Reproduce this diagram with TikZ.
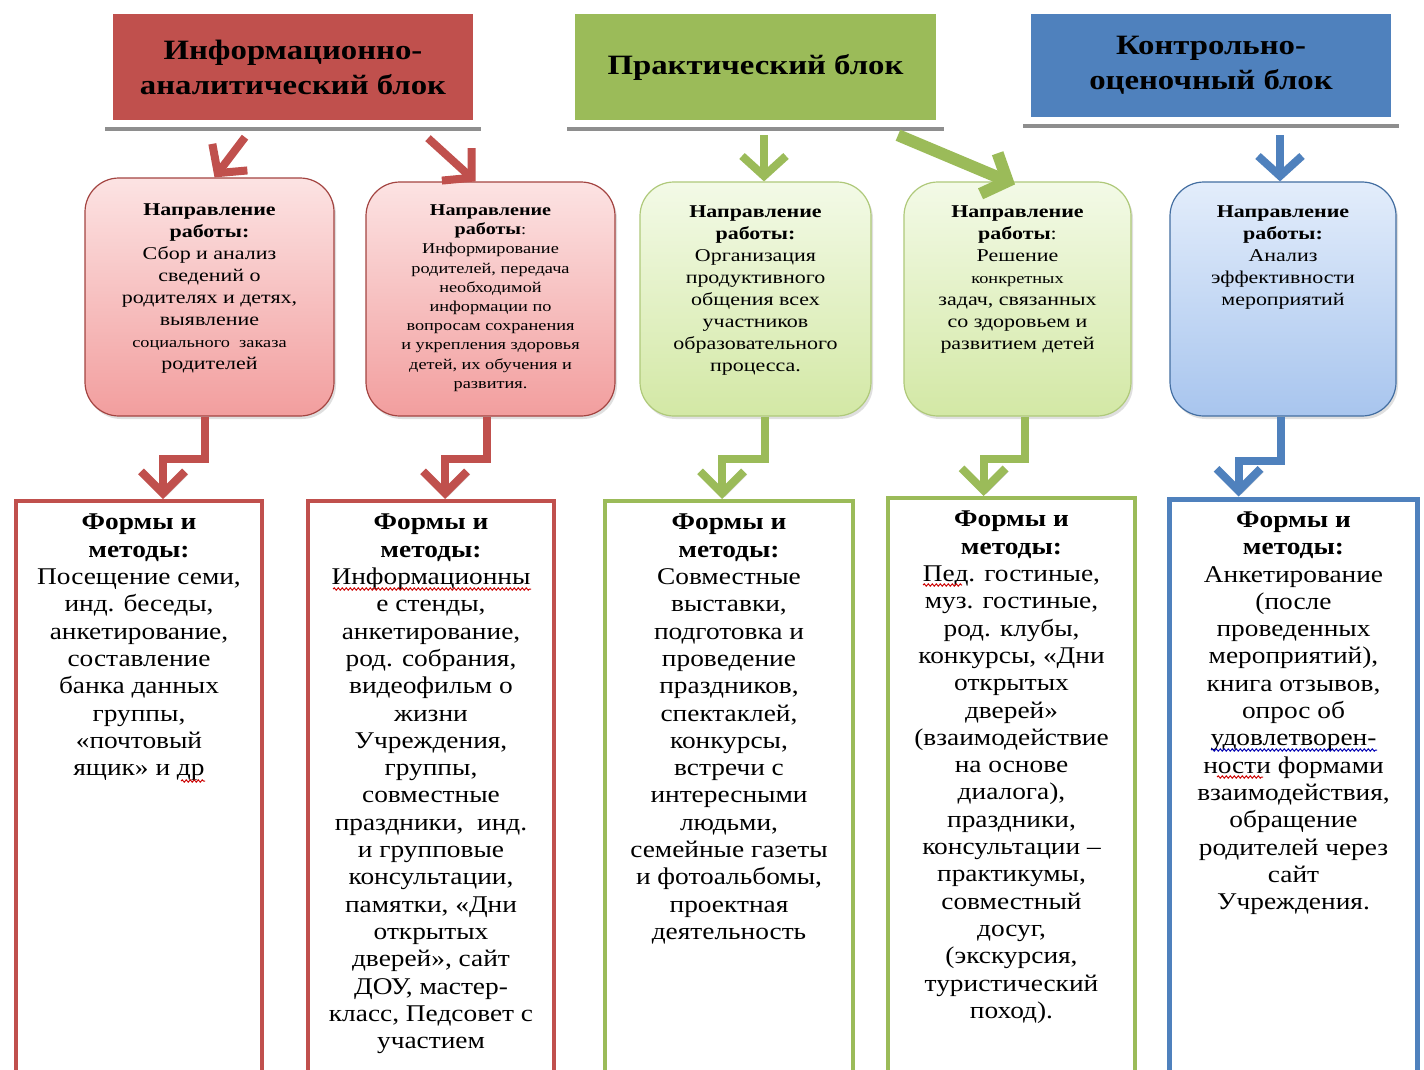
\documentclass[tikz,border=0pt]{standalone}
\usepackage{fontspec}
\setmainfont{Liberation Serif}
\newfontfamily\hdrfont[FakeStretch=1.17]{Liberation Serif}
\newfontfamily\midfont[FakeStretch=1.22]{Liberation Serif}
\newfontfamily\botfont[FakeStretch=1.14]{Liberation Serif}
\usetikzlibrary{arrows.meta,shadows,calc,decorations.pathmorphing}
\definecolor{cred}{HTML}{C0504D}
\definecolor{cgreen}{HTML}{9BBB59}
\definecolor{cblue}{HTML}{4F81BD}
\definecolor{cgray}{HTML}{8E8E8E}
\definecolor{redtop}{HTML}{FCE3E3}
\definecolor{redbot}{HTML}{F29E9E}
\definecolor{greentop}{HTML}{F3FAE7}
\definecolor{greenbot}{HTML}{D3E8A5}
\definecolor{bluetop}{HTML}{E3EDFB}
\definecolor{bluebot}{HTML}{A8C5EE}
\tikzset{
  hdrbox/.style={inner sep=0pt, align=center, text=black,
    font=\hdrfont\bfseries\fontsize{28}{35}\selectfont},
  grayline/.style={draw=cgray, line width=4.5pt},
  toparrow/.style={line width=8pt, -{Straight Barb[length=20pt,width=44pt]}},
  elbow/.style={line width=8pt, line join=miter, -{Straight Barb[length=22pt,width=44pt]},
    preaction={draw=black!30, transform canvas={xshift=3pt,yshift=-3pt}}},
  midbox/.style={rounded corners=34pt, line width=1.2pt, inner sep=0pt,
    drop shadow={opacity=0.25, shadow xshift=2pt, shadow yshift=-3pt}},
  redmid/.style={midbox, draw=cred!85!black, top color=redtop, bottom color=redbot},
  greenmid/.style={midbox, draw=cgreen!80!white, top color=greentop, bottom color=greenbot},
  bluemid/.style={midbox, draw=cblue!85!black, top color=bluetop, bottom color=bluebot},
  midtext/.style={anchor=north, inner sep=0pt, align=center, font=\midfont\fontsize{18}{22}\selectfont},
  botbox/.style={anchor=north, fill=white, inner sep=0pt, minimum height=600pt},
  bottext/.style={anchor=north, inner sep=0pt, align=center, font=\botfont\fontsize{24}{27.3}\selectfont},
  squiggle/.style={line width=1pt, decorate, decoration={snake, segment length=4pt, amplitude=1.1pt}},
}
\begin{document}
\begin{tikzpicture}[x=1pt,y=-1pt]
\useasboundingbox (0,0) rectangle (1424,1070);
\clip (0,0) rectangle (1424,1070);
\fill[white] (0,0) rectangle (1424,1070);

% header blocks
\node[hdrbox, fill=cred, minimum width=360pt, minimum height=106pt] (h1) at (293,67)
  {Информационно-\\аналитический блок};
\node[hdrbox, fill=cgreen, minimum width=361pt, minimum height=106pt] (h2) at (755.5,67)
  {Практический блок};
\node[hdrbox, fill=cblue, minimum width=360pt, minimum height=103pt] (h3) at (1211,65.5)
  {Контрольно-\\оценочный блок};
\draw[grayline] (105,129) -- (481,129);
\draw[grayline] (567,129) -- (944,129);
\draw[grayline] (1023,126) -- (1399,126);

% middle rounded boxes
\node[redmid, minimum width=249pt, minimum height=238pt] (m1) at (209.5,297) {};
\node[redmid, minimum width=249pt, minimum height=234pt] (m2) at (490.5,299) {};
\node[greenmid, minimum width=231pt, minimum height=234pt] (m3) at (755.5,299) {};
\node[greenmid, minimum width=227pt, minimum height=234pt] (m4) at (1017.5,299) {};
\node[bluemid, minimum width=226pt, minimum height=234pt] (m5) at (1283,299) {};

\node[midtext] (m1t) at ([yshift=-26pt]m1.north)
  {\textbf{Направление}\\\textbf{работы:}\\Сбор и анализ\\сведений о\\родителях и детях,\\выявление\\{\fontsize{15}{22}\selectfont социального\ \ заказа}\\родителей};
\node[midtext, font=\midfont\fontsize{15}{19.2}\selectfont] (m2t) at ([yshift=-23pt]m2.north)
  {\textbf{\fontsize{16.5}{21}\selectfont Направление}\\\textbf{\fontsize{16.5}{21}\selectfont работы}:\\Информирование\\родителей, передача\\необходимой\\информации по\\вопросам сохранения\\и укрепления здоровья\\детей, их обучения и\\развития.};
\node[midtext] (m3t) at ([yshift=-24pt]m3.north)
  {\textbf{Направление}\\\textbf{работы:}\\Организация\\продуктивного\\общения всех\\участников\\образовательного\\процесса.};
\node[midtext] (m4t) at ([yshift=-24pt]m4.north)
  {\textbf{Направление}\\\textbf{работы}:\\Решение\\{\fontsize{15}{22}\selectfont конкретных}\\задач, связанных\\со здоровьем и\\развитием детей};
\node[midtext] (m5t) at ([yshift=-24pt]m5.north)
  {\textbf{Направление}\\\textbf{работы:}\\Анализ\\эффективности\\мероприятий};

% bottom boxes
\node[botbox, draw=cred, line width=4pt, minimum width=246pt] (b1) at (139,499) {};
\node[botbox, draw=cred, line width=4pt, minimum width=246pt] (b2) at (431,499) {};
\node[botbox, draw=cgreen, line width=4pt, minimum width=248pt] (b3) at (729,499) {};
\node[botbox, draw=cgreen, line width=4pt, minimum width=247pt] (b4) at (1011.5,496) {};
\node[botbox, draw=cblue, line width=5pt, minimum width=248pt] (b5) at (1293.5,496.5) {};

\node[bottext] (b1t) at ([yshift=-15pt]b1.north)
  {\textbf{Формы и}\\\textbf{методы:}\\Посещение семи,\\инд. беседы,\\анкетирование,\\составление\\банка данных\\группы,\\«почтовый\\ящик» и др};
\node[bottext] (b2t) at ([yshift=-15pt]b2.north)
  {\textbf{Формы и}\\\textbf{методы:}\\Информационны\\е стенды,\\анкетирование,\\род. собрания,\\видеофильм о\\жизни\\Учреждения,\\группы,\\совместные\\праздники, \ инд.\\и групповые\\консультации,\\памятки, «Дни\\открытых\\дверей», сайт\\ДОУ, мастер-\\класс, Педсовет с\\участием};
\node[bottext] (b3t) at ([yshift=-15pt]b3.north)
  {\textbf{Формы и}\\\textbf{методы:}\\Совместные\\выставки,\\подготовка и\\проведение\\праздников,\\спектаклей,\\конкурсы,\\встречи с\\интересными\\людьми,\\семейные газеты\\и фотоальбомы,\\проектная\\деятельность};
\node[bottext] (b4t) at ([yshift=-15pt]b4.north)
  {\textbf{Формы и}\\\textbf{методы:}\\Пед. гостиные,\\муз. гостиные,\\род. клубы,\\конкурсы, «Дни\\открытых\\дверей»\\(взаимодействие\\на основе\\диалога),\\праздники,\\консультации –\\практикумы,\\совместный\\досуг,\\(экскурсия,\\туристический\\поход).};
\node[bottext] (b5t) at ([yshift=-15pt]b5.north)
  {\textbf{Формы и}\\\textbf{методы:}\\Анкетирование\\(после\\проведенных\\мероприятий),\\книга отзывов,\\опрос об\\удовлетворен-\\ности формами\\взаимодействия,\\обращение\\родителей через\\сайт\\Учреждения.};

% spell-check wavy underlines
\draw[squiggle, red!80!black] (333,589) -- (531,589);
\draw[squiggle, red!80!black] (181,781) -- (205,781);
\draw[squiggle, red!80!black] (923,585) -- (962,585);
\draw[squiggle, blue!70!black] (1211,750) -- (1377,750);
\draw[squiggle, red!80!black] (1217,777) -- (1263,777);

% arrows header -> middle
\draw[toparrow, cred] ([xshift=-48pt,yshift=-17pt]h1.south) -- ([xshift=5pt]m1.north);
\draw[toparrow, cred] ([xshift=135pt,yshift=-18pt]h1.south) -- ([xshift=-15pt]m2.north);
\draw[toparrow, cgreen] ([xshift=8.5pt,yshift=-15pt]h2.south) -- ([xshift=8.5pt]m3.north);
\draw[toparrow, cgreen, line width=12pt] ([xshift=142.5pt,yshift=-15pt]h2.south) -- ([xshift=-2.5pt,yshift=-3pt]m4.north);
\draw[toparrow, cblue] ([xshift=69pt,yshift=-18pt]h3.south) -- ([xshift=-3pt]m5.north);

% elbow arrows middle -> bottom
\draw[elbow, cred] ([xshift=-4.5pt]m1.south) -- ++(0,42) -| ([xshift=24pt]b1.north);
\draw[elbow, cred] ([xshift=-3.5pt]m2.south) -- ++(0,42) -| ([xshift=14pt]b2.north);
\draw[elbow, cgreen] ([xshift=9.5pt]m3.south) -- ++(0,42) -| ([xshift=-7pt]b3.north);
\draw[elbow, cgreen] ([xshift=7.5pt]m4.south) -- ++(0,42) -| ([xshift=-28pt]b4.north);
\draw[elbow, cblue] ([xshift=-2pt]m5.south) -- ++(0,44) -| ([xshift=-55pt]b5.north);
\end{tikzpicture}
\end{document}
